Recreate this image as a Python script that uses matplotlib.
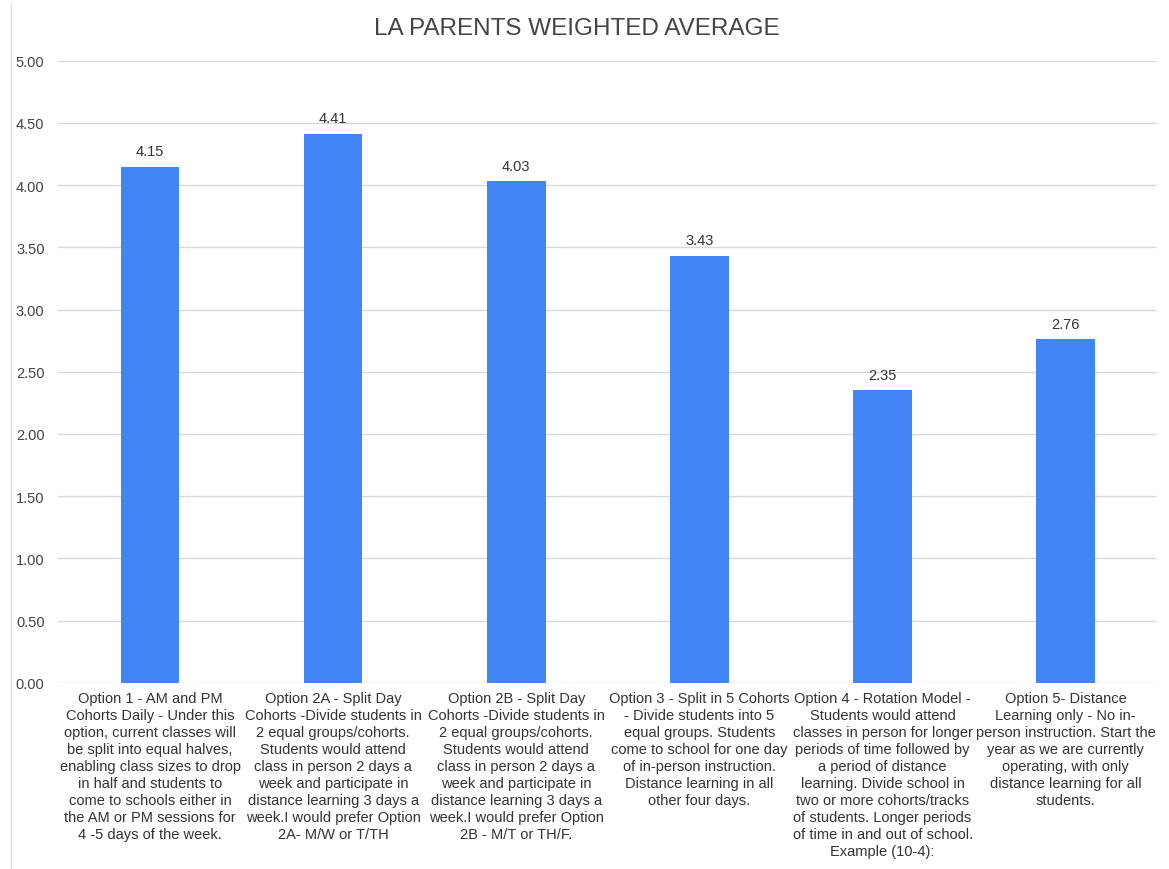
#!/usr/bin/env python

import numpy as np
import matplotlib.pyplot as plt

plt.rcParams['font.family'] = ['Liberation Sans', 'DejaVu Sans']

title = 'LA PARENTS WEIGHTED AVERAGE'
labels = [
    'Option 1 - AM and PM\nCohorts Daily - Under this\noption, current classes will\n'
    'be split into equal halves,\nenabling class sizes to drop\nin half and students to\n'
    'come to schools either in\nthe AM or PM sessions for\n4 -5 days of the week.',
    'Option 2A - Split Day\nCohorts -Divide students in\n2 equal groups/cohorts.\n'
    'Students would attend\nclass in person 2 days a\nweek and participate in\n'
    'distance learning 3 days a\nweek.I would prefer Option\n2A- M/W or T/TH',
    'Option 2B - Split Day\nCohorts -Divide students in\n2 equal groups/cohorts.\n'
    'Students would attend\nclass in person 2 days a\nweek and participate in\n'
    'distance learning 3 days a\nweek.I would prefer Option\n2B - M/T or TH/F.',
    'Option 3 - Split in 5 Cohorts\n- Divide students into 5\nequal groups. Students\n'
    'come to school for one day\nof in-person instruction.\nDistance learning in all\n'
    'other four days.',
    'Option 4 - Rotation Model -\nStudents would attend\nclasses in person for longer\n'
    'periods of time followed by\na period of distance\nlearning. Divide school in\n'
    'two or more cohorts/tracks\nof students. Longer periods\nof time in and out of school.\n'
    'Example (10-4):',
    'Option 5- Distance\nLearning only - No in-\nperson instruction. Start the\n'
    'year as we are currently\noperating, with only\ndistance learning for all\nstudents.',
]
values = [4.15, 4.41, 4.03, 3.43, 2.35, 2.76]
yticks = [0, 0.5, 1, 1.5, 2, 2.5, 3, 3.5, 4, 4.5, 5]

fig = plt.figure(figsize=(11.69, 8.70), dpi=100)
ax = fig.add_axes([0.050, 0.214, 0.940, 0.715])

x = np.arange(len(values))
bars = ax.bar(x, values, 0.32, color='#4285F4', zorder=3)

for b, v in zip(bars, values):
    ax.text(b.get_x() + b.get_width() / 2, v + 0.07, '%.2f' % v,
            ha='center', va='bottom', fontsize=10.5, color='#333333')

ax.set_xlim(-0.5, len(values) - 0.5)
ax.set_ylim(0, 5)
ax.set_yticks(yticks)
ax.set_yticklabels(['%.2f' % t for t in yticks], fontsize=10.5, color='#444444')
ax.set_xticks(x)
ax.set_xticklabels(labels, fontsize=10.5, color='#333333', linespacing=1.27)
ax.tick_params(length=0, pad=6)
ax.tick_params(axis='y', pad=10)
ax.grid(axis='y', color='#d9d9d9', linewidth=1, zorder=0)
for s in ax.spines.values():
    s.set_visible(False)

fig.text(0.493, 0.967, title, ha='center', va='center', fontsize=17.5, color='#444444')

# faint frame line on the left edge of the screenshot
fig.add_artist(plt.Line2D([0.009, 0.009], [0, 0.995], color='#dddddd', linewidth=1))

fig.savefig('out.png', dpi=100)
